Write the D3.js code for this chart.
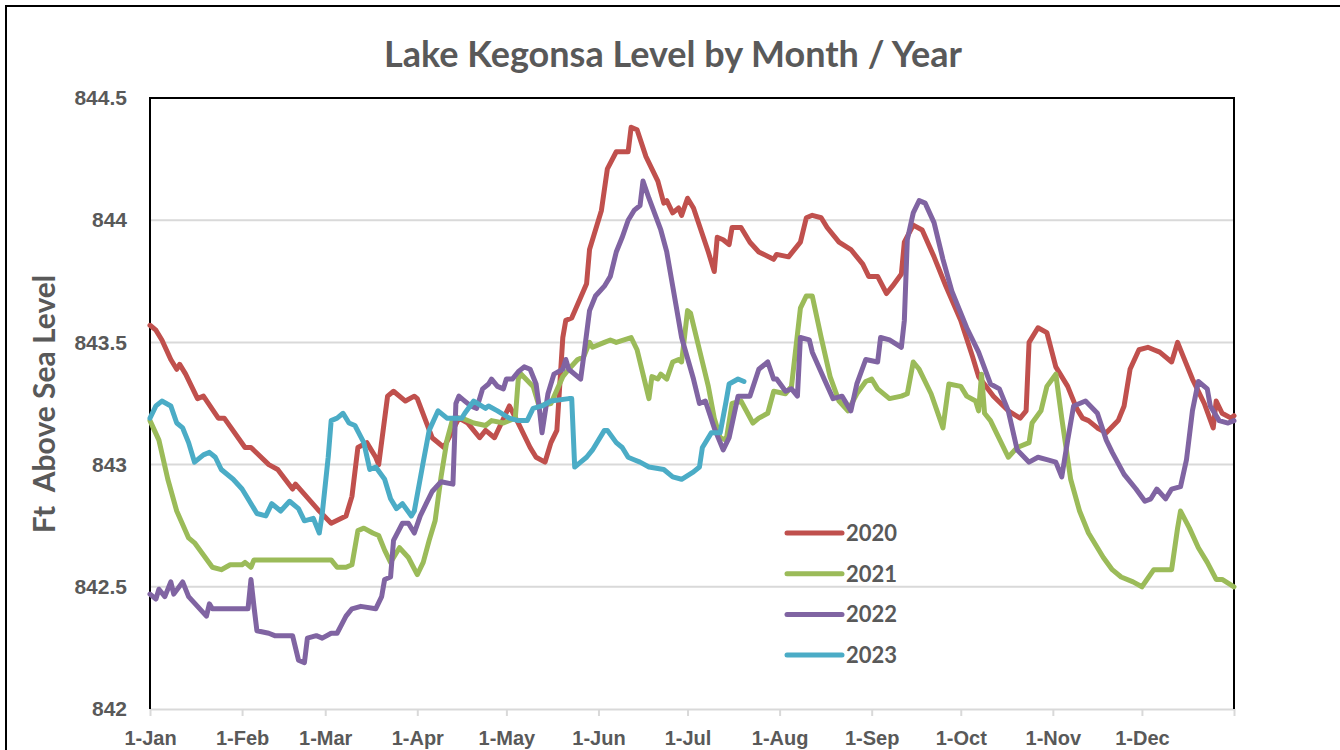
<!DOCTYPE html>
<html>
<head>
<meta charset="utf-8">
<script src="https://cdn.jsdelivr.net/npm/d3@7"></script>
<style>
  body { margin: 0; background: #fff; }
  svg { display: block; font-family: Lato, "Open Sans", sans-serif; }
</style>
</head>
<body>
<div id="chart"></div>
<script>
// Chart text
const chartTitle = 'Lake Kegonsa Level by Month / Year';
const yTitle = 'Ft  Above Sea Level';

// x axis: days since 1-Jan, one tick at the start of each month
const monthDays = [0, 31, 59, 90, 120, 151, 181, 212, 243, 273, 304, 334, 365];
const monthLabels = ['1-Jan', '1-Feb', '1-Mar', '1-Apr', '1-May', '1-Jun', '1-Jul',
                     '1-Aug', '1-Sep', '1-Oct', '1-Nov', '1-Dec', ''];

// y axis ticks (ft above sea level)
const levelTicks = [842, 842.5, 843, 843.5, 844, 844.5];

const years = ['2020', '2021', '2022', '2023'];
const yearColors = ['#C0504D', '#9BBB59', '#8064A2', '#4BACC6'];

// [day since 1-Jan, lake level]
const level2020 = [
  [0,843.57],[2,843.55],[4,843.51],[7,843.43],[9,843.39],[10,843.41],[12,843.37],[16,843.27],
  [18,843.28],[23,843.19],[25,843.19],[32,843.07],[34,843.07],[40,843.00],[43,842.98],[48,842.90],
  [49,842.92],[57,842.81],[61,842.76],[66,842.79],[68,842.87],[70,843.07],[73,843.09],[76,843.03],
  [77,843.00],[80,843.28],[82,843.30],[86,843.26],[89,843.28],[90,843.27],[95,843.11],[99,843.07],
  [104,843.19],[107,843.17],[111,843.11],[113,843.14],[116,843.11],[121,843.24],[124,843.17],
  [128,843.07],[130,843.03],[133,843.01],[135,843.09],[137,843.14],[139,843.52],[140,843.59],
  [142,843.60],[147,843.74],[148,843.88],[152,844.04],[154,844.21],[157,844.28],[161,844.28],
  [162,844.38],[164,844.37],[167,844.26],[171,844.16],[173,844.07],[174,844.08],[176,844.03],
  [178,844.05],[179,844.02],[181,844.09],[183,844.05],[188,843.87],[190,843.79],[191,843.93],
  [193,843.92],[195,843.90],[196,843.97],[199,843.97],[202,843.91],[205,843.87],[210,843.84],
  [211,843.86],[215,843.85],[219,843.91],[221,844.01],[223,844.02],[226,844.01],[228,843.97],
  [232,843.91],[236,843.88],[240,843.82],[242,843.77],[245,843.77],[248,843.70],[250,843.73],
  [253,843.78],[254,843.91],[257,843.98],[260,843.96],[264,843.85],[268,843.73],[273,843.59],
  [277,843.44],[279,843.36],[284,843.28],[289,843.22],[293,843.19],[295,843.22],[296,843.50],
  [299,843.56],[302,843.54],[305,843.40],[309,843.32],[312,843.23],[314,843.19],[316,843.18],
  [319,843.15],[322,843.13],[326,843.18],[328,843.24],[330,843.39],[333,843.47],[336,843.48],
  [338,843.47],[340,843.46],[344,843.42],[346,843.50],[348,843.44],[351,843.35],[355,843.25],
  [358,843.15],[359,843.26],[361,843.21],[364,843.19],[365,843.20]
];

const level2021 = [
  [0,843.18],[3,843.10],[6,842.94],[9,842.81],[13,842.70],[15,842.68],[21,842.58],[24,842.57],
  [27,842.59],[31,842.59],[32,842.60],[34,842.58],[35,842.61],[61,842.61],[63,842.58],[66,842.58],
  [68,842.59],[70,842.73],[72,842.74],[75,842.72],[77,842.71],[79,842.65],[81,842.60],[84,842.66],
  [87,842.62],[90,842.55],[92,842.60],[94,842.69],[96,842.77],[98,842.95],[100,843.10],[102,843.19],
  [105,843.19],[109,843.17],[113,843.16],[115,843.18],[119,843.17],[123,843.19],[124,843.35],
  [125,843.37],[129,843.32],[131,843.24],[135,843.25],[139,843.36],[141,843.39],[144,843.43],
  [146,843.44],[148,843.50],[149,843.48],[153,843.50],[155,843.51],[157,843.50],[162,843.52],
  [164,843.47],[166,843.37],[168,843.27],[169,843.36],[171,843.35],[172,843.37],[174,843.35],
  [176,843.42],[178,843.43],[179,843.42],[181,843.63],[182,843.62],[185,843.47],[188,843.32],
  [190,843.19],[192,843.11],[194,843.10],[196,843.25],[199,843.26],[203,843.17],[205,843.19],
  [208,843.21],[210,843.30],[214,843.29],[216,843.32],[219,843.64],[221,843.69],[223,843.69],
  [226,843.52],[229,843.36],[232,843.26],[235,843.22],[238,843.29],[241,843.34],[243,843.35],
  [245,843.31],[249,843.27],[253,843.28],[255,843.29],[257,843.42],[259,843.39],[263,843.29],
  [267,843.15],[269,843.33],[273,843.32],[275,843.28],[278,843.26],[279,843.22],[280,843.37],
  [281,843.21],[283,843.18],[285,843.13],[289,843.03],[292,843.07],[296,843.09],[297,843.17],
  [300,843.22],[302,843.32],[305,843.37],[307,843.19],[310,842.94],[313,842.81],[316,842.72],
  [321,842.62],[324,842.57],[327,842.54],[331,842.52],[334,842.50],[338,842.57],[344,842.57],
  [346,842.74],[347,842.81],[350,842.74],[353,842.66],[356,842.60],[359,842.53],[361,842.53],
  [365,842.50]
];

const level2022 = [
  [0,842.47],[2,842.45],[3,842.49],[5,842.46],[7,842.52],[8,842.47],[11,842.52],[13,842.46],
  [16,842.42],[19,842.38],[20,842.43],[21,842.41],[33,842.41],[34,842.53],[35,842.42],[36,842.32],
  [40,842.31],[42,842.30],[48,842.30],[50,842.20],[52,842.19],[53,842.29],[56,842.30],[58,842.29],
  [61,842.31],[63,842.31],[66,842.38],[68,842.41],[71,842.42],[76,842.41],[78,842.46],[79,842.53],
  [81,842.54],[82,842.69],[85,842.76],[87,842.76],[89,842.72],[91,842.79],[93,842.84],[95,842.89],
  [98,842.93],[102,842.92],[103,843.25],[104,843.28],[106,843.26],[108,843.24],[110,843.23],
  [112,843.31],[114,843.33],[115,843.35],[117,843.32],[119,843.31],[120,843.35],[122,843.35],
  [124,843.38],[126,843.40],[128,843.39],[130,843.33],[131,843.24],[132,843.13],[134,843.29],
  [136,843.37],[139,843.39],[140,843.43],[141,843.39],[145,843.35],[146,843.44],[148,843.63],
  [150,843.69],[153,843.73],[155,843.77],[157,843.87],[159,843.93],[161,844.00],[163,844.04],
  [165,844.06],[166,844.16],[168,844.09],[172,843.96],[174,843.87],[176,843.73],[179,843.52],
  [183,843.35],[185,843.25],[187,843.26],[190,843.15],[193,843.06],[195,843.11],[198,843.28],
  [200,843.28],[202,843.28],[205,843.39],[208,843.42],[210,843.35],[211,843.35],[214,843.30],
  [216,843.31],[218,843.28],[219,843.52],[222,843.51],[223,843.46],[227,843.35],[230,843.27],
  [233,843.28],[236,843.22],[238,843.33],[241,843.43],[245,843.42],[246,843.52],[249,843.51],
  [253,843.48],[254,843.59],[255,843.92],[257,844.03],[259,844.08],[261,844.07],[264,843.99],
  [267,843.84],[270,843.71],[275,843.56],[279,843.46],[283,843.33],[286,843.31],[289,843.22],
  [292,843.06],[296,843.01],[299,843.03],[302,843.02],[305,843.01],[307,842.95],[309,843.10],
  [311,843.24],[315,843.26],[319,843.21],[322,843.10],[324,843.05],[328,842.96],[332,842.90],
  [335,842.85],[337,842.86],[339,842.90],[342,842.86],[344,842.90],[347,842.91],[349,843.02],
  [351,843.22],[353,843.34],[356,843.31],[357,843.24],[360,843.18],[363,843.17],[365,843.18]
];

const level2023 = [
  [0,843.19],[2,843.24],[4,843.26],[7,843.24],[9,843.17],[11,843.15],[13,843.09],[15,843.01],
  [18,843.04],[20,843.05],[22,843.03],[24,842.98],[28,842.94],[31,842.90],[33,842.86],[36,842.80],
  [39,842.79],[41,842.84],[44,842.81],[47,842.85],[50,842.82],[52,842.77],[55,842.78],[57,842.72],
  [58,842.80],[60,843.03],[61,843.18],[63,843.19],[65,843.21],[67,843.17],[69,843.16],[72,843.09],
  [74,842.98],[76,842.99],[79,842.94],[81,842.86],[83,842.82],[85,842.84],[88,842.79],[89,842.81],
  [92,843.01],[94,843.14],[97,843.22],[100,843.19],[105,843.19],[106,843.21],[109,843.26],
  [113,843.23],[114,843.24],[117,843.22],[121,843.19],[124,843.18],[127,843.18],[129,843.23],
  [132,843.24],[135,843.26],[141,843.27],[142,843.27],[143,842.99],[145,843.01],[147,843.03],
  [149,843.06],[153,843.14],[154,843.14],[157,843.09],[159,843.07],[161,843.03],[163,843.02],
  [165,843.01],[168,842.99],[173,842.98],[176,842.95],[179,842.94],[183,842.97],[185,842.99],
  [186,843.07],[189,843.13],[192,843.13],[194,843.26],[195,843.33],[198,843.35],[200,843.34]
];

const yearLevels = [level2020, level2021, level2022, level2023];

const W = 1340, H = 750;
const margin = {top: 98, right: 106, bottom: 41, left: 150};
const textColor = '#595959';

const svg = d3.select('#chart').append('svg')
  .attr('width', W)
  .attr('height', H);

// outer chart border
svg.append('rect')
  .attr('x', 6).attr('y', 6)
  .attr('width', W + 20).attr('height', H + 20)
  .attr('fill', '#fff')
  .attr('stroke', '#000')
  .attr('stroke-width', 2);

const x = d3.scaleLinear()
  .domain([0, 365])
  .range([margin.left, W - margin.right]);

const y = d3.scaleLinear()
  .domain([842, 844.5])
  .range([H - margin.bottom, margin.top]);

// gridlines
svg.append('g')
  .selectAll('line')
  .data(levelTicks.slice(1, -1))
  .join('line')
  .attr('x1', x(0)).attr('x2', x(365))
  .attr('y1', d => y(d)).attr('y2', d => y(d))
  .attr('stroke', '#d9d9d9')
  .attr('stroke-width', 2);

// x axis
const xAxis = svg.append('g')
  .attr('transform', `translate(0,${y(842)})`)
  .call(d3.axisBottom(x)
    .tickValues(monthDays)
    .tickFormat((d, i) => monthLabels[i])
    .tickSize(7)
    .tickSizeOuter(0));
xAxis.select('.domain').attr('stroke', '#d9d9d9').attr('stroke-width', 2);
xAxis.selectAll('.tick line').attr('stroke', '#d9d9d9').attr('stroke-width', 2);
xAxis.selectAll('.tick text')
  .attr('y', 36).attr('dy', null)
  .attr('fill', textColor)
  .style('font-size', '20px')
  .style('font-weight', 'bold');

// y axis
const yAxis = svg.append('g')
  .attr('transform', `translate(${x(0)},0)`)
  .call(d3.axisLeft(y)
    .tickValues(levelTicks)
    .tickFormat(d3.format('~f'))
    .tickSize(0)
    .tickPadding(23));
yAxis.select('.domain').remove();
yAxis.selectAll('.tick text')
  .attr('fill', textColor)
  .style('font-size', '21px')
  .style('font-weight', 'bold');

// plot area frame (left, top, right)
svg.append('path')
  .attr('d', `M${x(0)},${y(842)}V${y(844.5)}H${x(365)}V${y(842)}`)
  .attr('fill', 'none')
  .attr('stroke', '#000')
  .attr('stroke-width', 2);

// lines
const line = d3.line()
  .x(d => x(d[0]))
  .y(d => y(d[1]));

svg.append('g')
  .selectAll('path')
  .data(yearLevels)
  .join('path')
  .attr('d', line)
  .attr('fill', 'none')
  .attr('stroke', (d, i) => yearColors[i])
  .attr('stroke-width', 5)
  .attr('stroke-linejoin', 'round')
  .attr('stroke-linecap', 'round');

// title
svg.append('text')
  .attr('x', 673).attr('y', 67)
  .attr('text-anchor', 'middle')
  .attr('fill', textColor)
  .style('font-size', '36px')
  .style('font-weight', 'bold')
  .text(chartTitle);

// y axis title
svg.append('text')
  .attr('transform', 'translate(55,404) rotate(-90)')
  .attr('text-anchor', 'middle')
  .attr('fill', textColor)
  .style('font-size', '30px')
  .style('font-weight', 'bold')
  .style('white-space', 'pre')
  .text(yTitle);

// legend
const legend = svg.append('g')
  .selectAll('g')
  .data(years)
  .join('g')
  .attr('transform', (d, i) => `translate(787,${533 + i * 40.7})`);

legend.append('line')
  .attr('x1', 0).attr('x2', 55)
  .attr('stroke', (d, i) => yearColors[i])
  .attr('stroke-width', 5)
  .attr('stroke-linecap', 'round');

legend.append('text')
  .attr('x', 59).attr('y', 8)
  .attr('fill', textColor)
  .style('font-size', '22px')
  .style('font-weight', 'bold')
  .text(d => d);
</script>
</body>
</html>
